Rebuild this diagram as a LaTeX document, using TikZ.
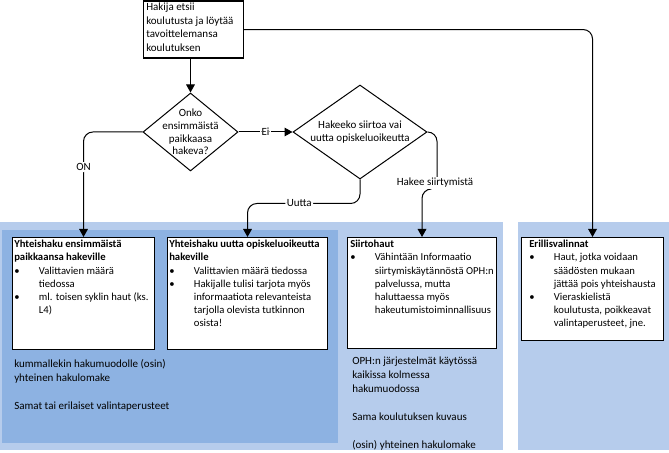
\documentclass[tikz,border=0pt]{standalone}
\usepackage{fontspec}
\setmainfont{Carlito}
\usetikzlibrary{shapes.geometric,arrows.meta}
\definecolor{lightreg}{RGB}{182,204,236}
\definecolor{darkreg}{RGB}{141,178,226}
\newcommand\bul{\makebox[18.5pt][l]{\textbullet}}
\newcommand\ind{\hspace*{18.5pt}}
\begin{document}
\begin{tikzpicture}[x=0.75pt,y=-0.75pt,
  every node/.style={font=\fontsize{8.25}{9.6}\selectfont},
  box/.style={draw, fill=white, line width=0.8pt, inner sep=0pt, anchor=north west},
  txt/.style={inner sep=0pt, anchor=north west, align=left, font=\fontsize{8}{9.9}\selectfont},
  regtxt/.style={inner sep=0pt, anchor=north west, align=left, font=\fontsize{8.25}{10.5}\selectfont},
  dia/.style={diamond, draw, fill=white, line width=0.75pt, inner sep=0pt},
  conn/.style={line width=0.75pt, rounded corners=7pt, -{Triangle[length=6pt,width=6.5pt]}},
  lbl/.style={fill=white, inner sep=1pt}]
\useasboundingbox (0,0) rectangle (669,453);
% regions
\fill[lightreg] (0,222) rectangle (503,450);
\fill[darkreg] (2,230) rectangle (338,443);
\fill[lightreg] (518,222) rectangle (669,450);
% start box
\node[box, minimum width=100*0.75pt, minimum height=57*0.75pt] (start) at (143,0.5) {};
\node[txt, font=\fontsize{8.25}{10.1}\selectfont] (starttxt) at (146,3) {Hakija etsii\\koulutusta ja löytää\\tavoittelemansa\\koulutuksen};
% diamonds
\node[dia, minimum width=95*0.75pt, minimum height=78*0.75pt] (d1) at (190.5,132) {};
\node[align=center, inner sep=0pt] (d1t) at (190.5,132) {Onko\\ensimmäistä\\paikkaasa\\hakeva?};
\node[dia, minimum width=134*0.75pt, minimum height=94*0.75pt] (d2) at (360,132) {};
\node[align=center, inner sep=0pt] (d2t) at (360,132) {Hakeeko siirtoa vai\\uutta opiskeluoikeutta};
% boxes
\node[box, minimum width=142*0.75pt, minimum height=112*0.75pt] (b1) at (12,237) {};
\node[box, minimum width=160*0.75pt, minimum height=112*0.75pt] (b2) at (167,237) {};
\node[box, minimum width=149*0.75pt, minimum height=111*0.75pt] (b3) at (347,237) {};
\node[box, minimum width=142*0.75pt, minimum height=103*0.75pt] (b4) at (521,237) {};
\node[txt] (b1t) at (14,240) {\textbf{Yhteishaku ensimmäistä}\\\textbf{paikkaansa hakeville}\\\bul Valittavien määrä\\\ind tiedossa\\\bul ml. toisen syklin haut (ks.\\\ind L4)};
\node[txt] (b2t) at (169,240) {\textbf{Yhteishaku uutta opiskeluoikeutta}\\\textbf{hakeville}\\\bul Valittavien määrä tiedossa\\\bul Hakijalle tulisi tarjota myös\\\ind informaatiota relevanteista\\\ind tarjolla olevista tutkinnon\\\ind osista!};
\node[txt] (b3t) at (350,240) {\textbf{Siirtohaut}\\\bul Vähintään Informaatio\\\ind siirtymiskäytännöstä OPH:n\\\ind palvelussa, mutta\\\ind haluttaessa myös\\\ind hakeutumistoiminnallisuus};
\node[txt] (b4t) at (529,240) {\textbf{Erillisvalinnat}\\\bul Haut, jotka voidaan\\\ind säädösten mukaan\\\ind jättää pois yhteishausta\\\bul Vieraskielistä\\\ind koulutusta, poikkeavat\\\ind valintaperusteet, jne.};
% region texts
\node[regtxt] (r1t) at (14,359) {kummallekin hakumuodolle (osin)\\yhteinen hakulomake\\[10.5pt]Samat tai erilaiset valintaperusteet};
\node[regtxt] (r2t) at (352,357) {OPH:n järjestelmät käytössä\\kaikissa kolmessa\\hakumuodossa\\[10.5pt]Sama koulutuksen kuvaus\\[10.5pt](osin) yhteinen hakulomake};
% connectors
\draw[conn] (start.south -| d1.north) -- (d1.north);
\draw[conn] (d1.west) -| node[lbl, pos=0.667]{ON} (b1.north);
\draw[conn] (d1.east) -- node[lbl]{Ei} (d2.west);
\draw[conn] (d2.south) -- ++(0,24) -| node[lbl, pos=0.27]{Uutta} (b2.north);
\coordinate (j3) at (437,189);
\draw[conn] (d2.east) -| (j3) -| (b3.north);
\node[lbl] (hakee) at (435,183) {Hakee siirtymistä};
\draw[conn] (start.east) -| (b4.north);
\end{tikzpicture}
\end{document}
